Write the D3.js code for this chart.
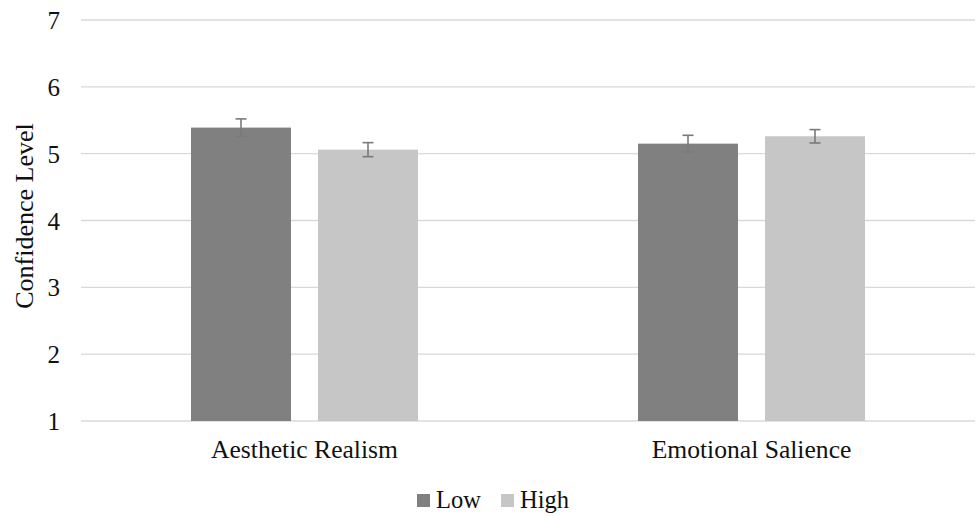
<!DOCTYPE html>
<html><head><meta charset="utf-8">
<script src="https://cdn.jsdelivr.net/npm/d3@7"></script>
<style>body{margin:0;background:#fff}svg{display:block}
svg text{font-family:"Liberation Serif","Times New Roman",Tinos,"DejaVu Serif",serif;}</style>
</head><body>
<script>
const categories = ["Aesthetic Realism", "Emotional Salience"];
const seriesNames = ["Low", "High"];
const lowValues = [5.39, 5.15];
const highValues = [5.06, 5.26];
const lowErrors = [0.13, 0.125];
const highErrors = [0.105, 0.10];
const yTicks = [1, 2, 3, 4, 5, 6, 7];
const colors = ["#808080", "#c6c6c6"];

const W = 976, H = 516;
const svg = d3.select("body").append("svg").attr("width", W).attr("height", H);

const y = d3.scaleLinear().domain([1, 7]).range([421, 20]);
const x0 = d3.scaleBand().domain(categories).range([81, 975]);
const x1 = d3.scaleBand().domain(seriesNames).range([110, 337]).paddingInner(0.2125);

svg.append("g").selectAll("line").data(yTicks).join("line")
  .attr("x1", 81).attr("x2", 975)
  .attr("y1", d => y(d)).attr("y2", d => y(d))
  .attr("stroke", "#d9d9d9").attr("stroke-width", 1.3);

svg.append("g").selectAll("text").data(yTicks).join("text")
  .attr("x", 60).attr("y", d => y(d) + 9)
  .attr("text-anchor", "end").attr("font-size", 25).attr("fill", "#111")
  .text(d => d);

svg.append("text").attr("transform", "translate(33,216) rotate(-90)")
  .attr("text-anchor", "middle").attr("font-size", 26).attr("fill", "#111")
  .text("Confidence Level");

const data = categories.map((c, i) => ({
  cat: c,
  vals: [
    {s: "Low", v: lowValues[i], e: lowErrors[i], c: colors[0]},
    {s: "High", v: highValues[i], e: highErrors[i], c: colors[1]}
  ]
}));

const groups = svg.append("g").selectAll("g").data(data).join("g")
  .attr("transform", d => `translate(${x0(d.cat)},0)`);

groups.selectAll("rect").data(d => d.vals).join("rect")
  .attr("x", d => x1(d.s)).attr("width", x1.bandwidth())
  .attr("y", d => y(d.v)).attr("height", d => y(1) - y(d.v))
  .attr("fill", d => d.c);

const eb = groups.selectAll("g.eb").data(d => d.vals).join("g").attr("class", "eb")
  .attr("stroke", "#7a7a7a").attr("stroke-width", 1.6);
const cx = d => x1(d.s) + x1.bandwidth()/2;
eb.append("line").attr("x1", cx).attr("x2", cx)
  .attr("y1", d => y(d.v + d.e)).attr("y2", d => y(d.v - d.e));
eb.append("line").attr("x1", d => cx(d) - 5.5).attr("x2", d => cx(d) + 5.5)
  .attr("y1", d => y(d.v + d.e)).attr("y2", d => y(d.v + d.e));
eb.append("line").attr("x1", d => cx(d) - 5.5).attr("x2", d => cx(d) + 5.5)
  .attr("y1", d => y(d.v - d.e)).attr("y2", d => y(d.v - d.e));

svg.append("g").selectAll("text").data(categories).join("text")
  .attr("x", d => x0(d) + x0.bandwidth()/2).attr("y", 458)
  .attr("text-anchor", "middle").attr("font-size", 25.6).attr("fill", "#111")
  .text(d => d);

const legX = [417, 501];
seriesNames.forEach((s, i) => {
  svg.append("rect").attr("x", legX[i]).attr("y", 494).attr("width", 13).attr("height", 13).attr("fill", colors[i]);
  svg.append("text").attr("x", legX[i] + 19).attr("y", 508)
    .attr("font-size", 24.5).attr("fill", "#111").text(s);
});
</script>
</body></html>
